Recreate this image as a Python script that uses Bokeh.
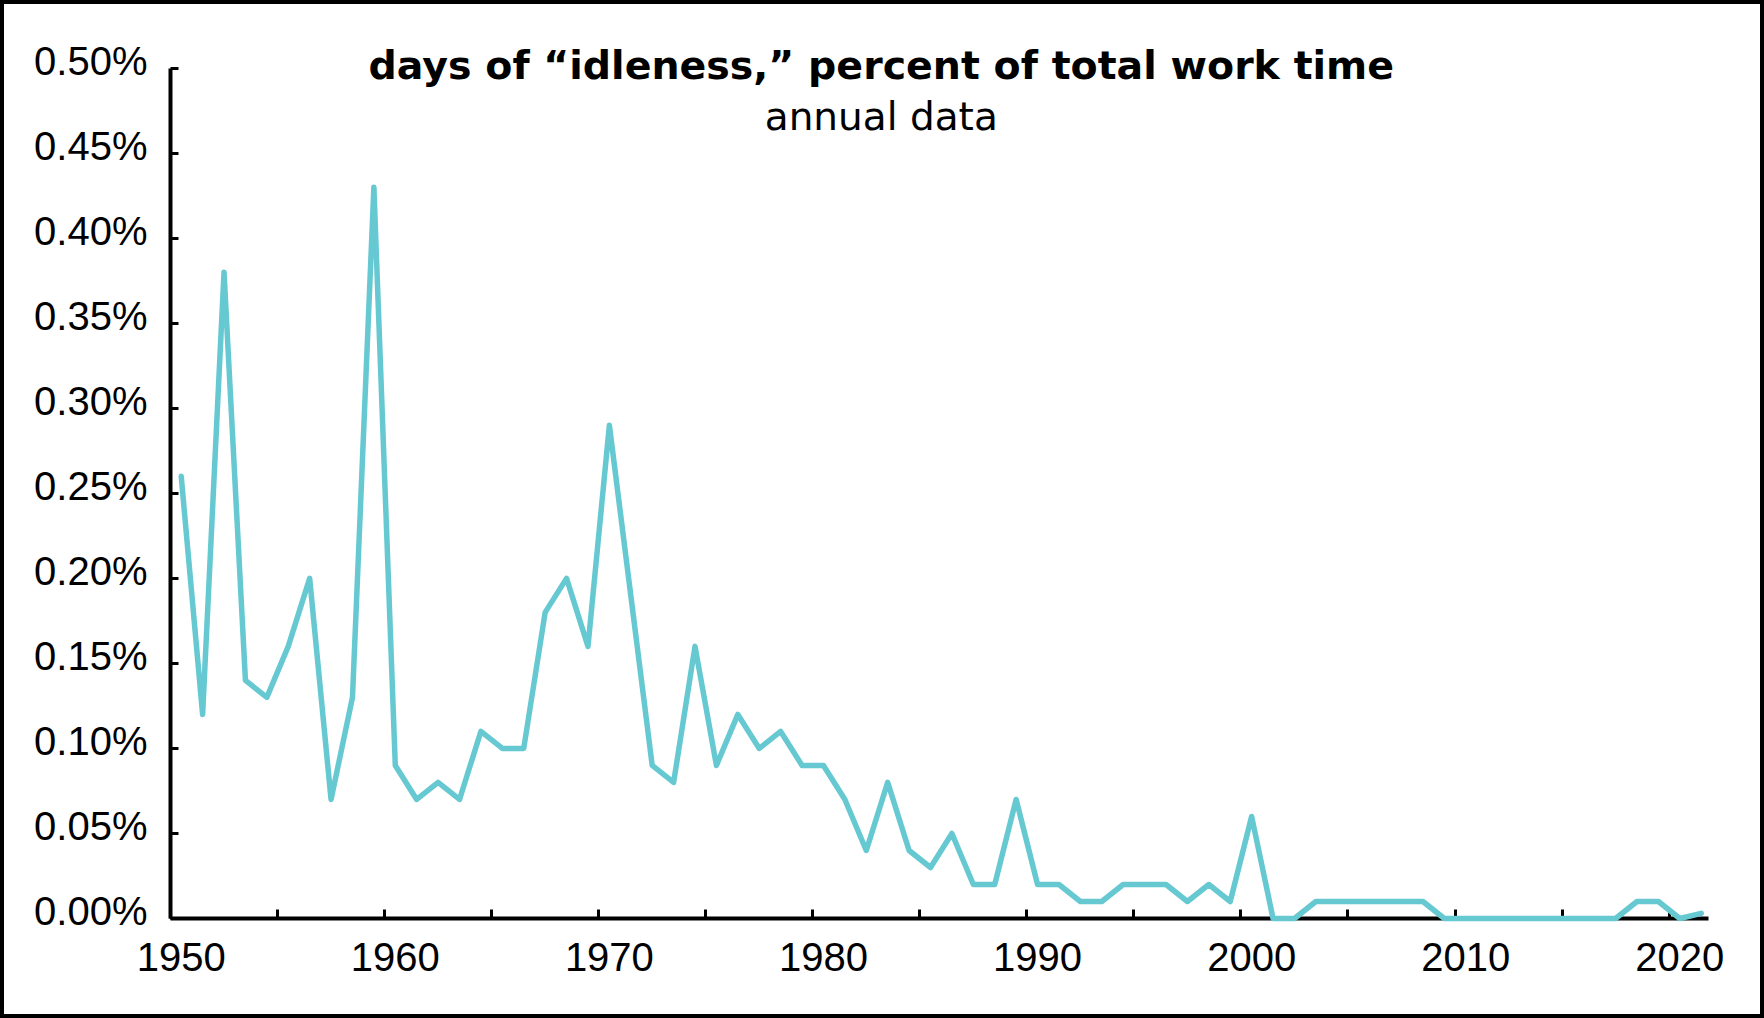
from bokeh.plotting import figure
from bokeh.models import Range1d, FixedTicker, LinearAxis, Label
from bokeh.embed import file_html
from bokeh.resources import INLINE

# ---- data (percent of total work time) ----
years = list(range(1950, 2022))
idleness_pct = [
    0.26, 0.12, 0.38, 0.14, 0.13, 0.16, 0.20, 0.07, 0.13, 0.43,   # 1950-1959
    0.09, 0.07, 0.08, 0.07, 0.11, 0.10, 0.10, 0.18, 0.20, 0.16,   # 1960-1969
    0.29, 0.19, 0.09, 0.08, 0.16, 0.09, 0.12, 0.10, 0.11, 0.09,   # 1970-1979
    0.09, 0.07, 0.04, 0.08, 0.04, 0.03, 0.05, 0.02, 0.02, 0.07,   # 1980-1989
    0.02, 0.02, 0.01, 0.01, 0.02, 0.02, 0.02, 0.01, 0.02, 0.01,   # 1990-1999
    0.06, 0.00, 0.00, 0.01, 0.01, 0.01, 0.01, 0.01, 0.01, 0.00,   # 2000-2009
    0.00, 0.00, 0.00, 0.00, 0.00, 0.00, 0.00, 0.00, 0.01, 0.01,   # 2010-2019
    0.00, 0.003,                                                  # 2020-2021
]
x_tick_values = [1950, 1960, 1970, 1980, 1990, 2000, 2010, 2020]
x_tick_labels = ["1950", "1960", "1970", "1980", "1990", "2000", "2010", "2020"]
x_tick_marks = [1949.5, 1954.5, 1959.5, 1964.5, 1969.5, 1974.5, 1979.5, 1984.5,
                1989.5, 1994.5, 1999.5, 2004.5, 2009.5, 2014.5, 2019.5]
y_tick_values = [0.0, 0.05, 0.1, 0.15, 0.2, 0.25, 0.3, 0.35, 0.4, 0.45, 0.5]
y_tick_labels = ["0.00%", "0.05%", "0.10%", "0.15%", "0.20%", "0.25%",
                 "0.30%", "0.35%", "0.40%", "0.45%", "0.50%"]
title_text = "days of \u201cidleness,\u201d percent of total work time"
subtitle_text = "annual data"

W, H = 1764, 1018
LABEL_LIFT = 0.0044   # y labels sit slightly above their tick marks (screen offset)

p = figure(width=W, height=H, output_backend="svg", toolbar_location=None,
           x_range=Range1d(1949.5, 2021.34), y_range=Range1d(0, 0.5292),
           min_border_left=166, min_border_right=60,
           min_border_top=14, min_border_bottom=104)
p.background_fill_color = "white"
p.border_fill_color = "white"
p.outline_line_color = None
p.grid.visible = False
p.styles = {"border": "4px solid black"}

xa = p.xaxis[0]
xa.ticker = FixedTicker(ticks=x_tick_values, minor_ticks=x_tick_marks)
xa.major_label_overrides = {v: l for v, l in zip(x_tick_values, x_tick_labels)}
xa.major_tick_in = 0
xa.major_tick_out = 0
xa.minor_tick_in = 9
xa.minor_tick_out = 0
xa.minor_tick_line_width = 3
xa.minor_tick_line_color = "black"
xa.axis_line_width = 4
xa.axis_line_color = "black"
xa.major_label_text_font = "Liberation Sans"
xa.major_label_text_font_size = "40px"
xa.major_label_text_color = "black"
xa.major_label_standoff = 24

# y axis: line + tick marks
ya = p.yaxis[0]
ya.bounds = (0, 0.5)
ya.ticker = FixedTicker(ticks=y_tick_values)
ya.major_label_overrides = {v: "" for v in y_tick_values}
ya.major_label_standoff = 0
ya.major_tick_in = 8
ya.major_tick_out = 0
ya.major_tick_line_width = 3
ya.major_tick_line_color = "black"
ya.minor_tick_line_color = None
ya.axis_line_width = 4
ya.axis_line_color = "black"

# y tick labels, lifted a little above the tick marks as in the original
label_pos = [round(v + LABEL_LIFT, 4) for v in y_tick_values]
ya_lab = LinearAxis(ticker=FixedTicker(ticks=label_pos),
                    major_label_overrides={v: l for v, l in zip(label_pos, y_tick_labels)},
                    axis_line_color=None, major_tick_line_color=None,
                    minor_tick_line_color=None, major_tick_in=0, major_tick_out=0,
                    major_label_standoff=23,
                    major_label_text_font="Liberation Sans",
                    major_label_text_font_size="40px",
                    major_label_text_color="black")
p.add_layout(ya_lab, "left")

p.line(years, idleness_pct, line_color="#66C9D2", line_width=5.5,
       line_join="round", line_cap="round", level="overlay")

p.add_layout(Label(x=1982.7, y=0.5016, text=title_text, text_align="center",
                   text_baseline="alphabetic", text_font="DejaVu Sans",
                   text_font_style="bold", text_font_size="39.5px", text_color="black"))
p.add_layout(Label(x=1982.7, y=0.4716, text=subtitle_text, text_align="center",
                   text_baseline="alphabetic", text_font="DejaVu Sans",
                   text_font_size="39px", text_color="black"))

open("out.html", "w").write(file_html(p, INLINE))
